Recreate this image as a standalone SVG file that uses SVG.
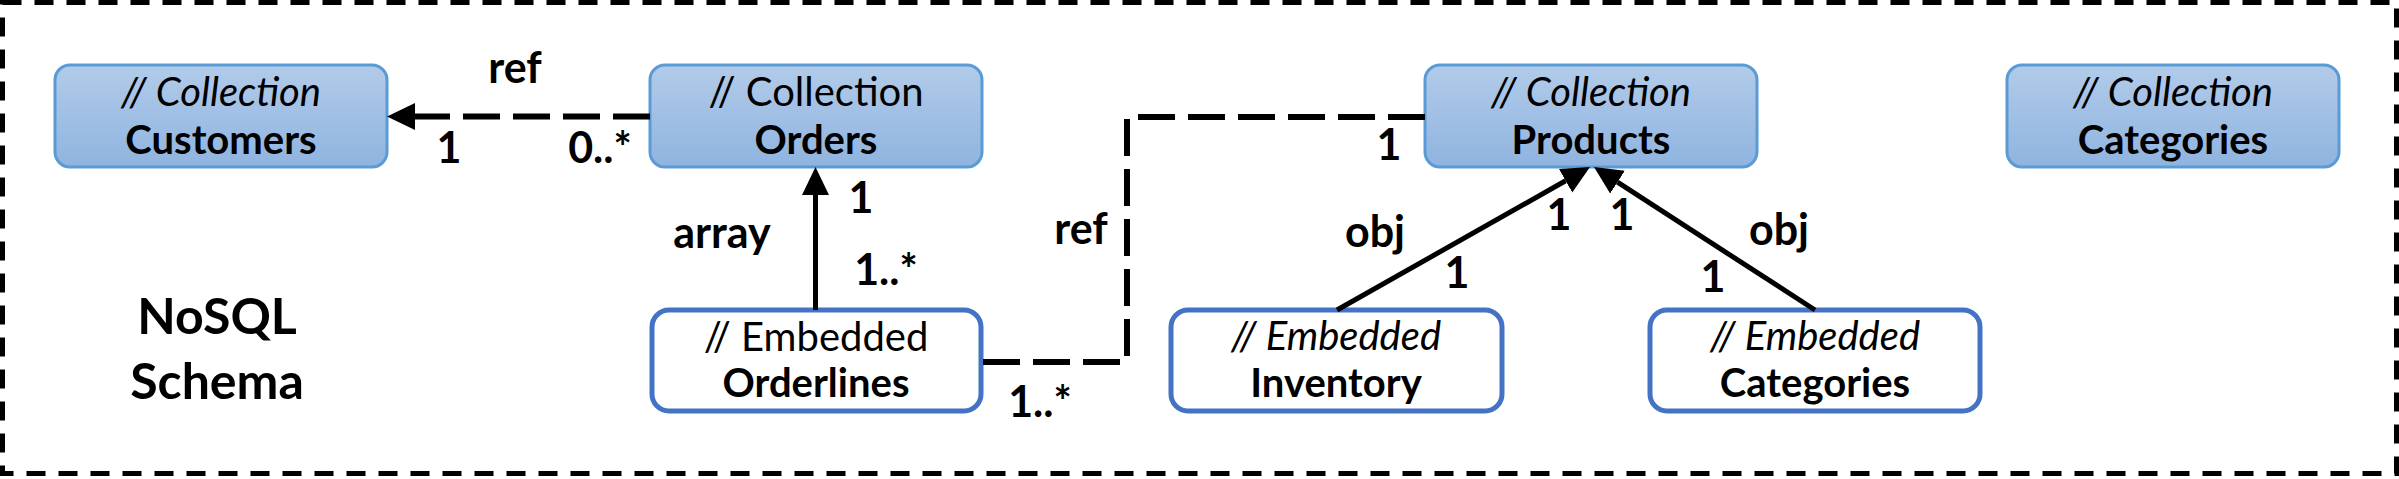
<svg xmlns="http://www.w3.org/2000/svg" width="2399" height="479" viewBox="0 0 2399 479">
<defs>
<linearGradient id="colFill" x1="0" y1="0" x2="0" y2="1">
<stop offset="0" stop-color="#b2cbe9"/>
<stop offset="1" stop-color="#8fb4e0"/>
</linearGradient>
<marker id="arrow" markerUnits="userSpaceOnUse" markerWidth="30" markerHeight="28" refX="0" refY="13.5" orient="auto">
<path d="M0,0 L28,13.5 L0,27 Z" fill="#000"/>
</marker>
<style>
text{font-family:Lato,"Open Sans","Liberation Sans",sans-serif;fill:#000;text-anchor:middle}
.col{fill:url(#colFill);stroke:#5b9bd5;stroke-width:3}
.emb{fill:#fff;stroke:#4472c4;stroke-width:5}
.t{font-size:40px}
.ti{font-size:40px;font-style:italic}
.tb{font-size:40px;font-weight:bold}
.lbl{font-size:43px;font-weight:bold}
.title{font-size:50px;font-weight:bold}
.dash{fill:none;stroke:#000;stroke-width:6;stroke-dasharray:37 13}
.solid{fill:none;stroke:#000;stroke-width:5}
</style>
</defs>
<rect x="2.5" y="2.5" width="2394" height="471" fill="#fff" stroke="#000" stroke-width="5" stroke-dasharray="19 13"/>
<g id="title">
<text class="title" x="217" y="334">NoSQL</text>
<text class="title" x="217" y="399">Schema</text>
</g>
<g id="customers">
<rect class="col" x="55" y="65" width="332" height="102" rx="15"/>
<text class="ti" x="221" y="106">// Collection</text>
<text class="tb" x="221" y="154">Customers</text>
</g>
<g id="orders">
<rect class="col" x="650" y="65" width="332" height="102" rx="15"/>
<text class="t" x="816" y="106">// Collection</text>
<text class="tb" x="816" y="154">Orders</text>
</g>
<g id="products">
<rect class="col" x="1425" y="65" width="332" height="102" rx="15"/>
<text class="ti" x="1591" y="106">// Collection</text>
<text class="tb" x="1591" y="154">Products</text>
</g>
<g id="categories">
<rect class="col" x="2007" y="65" width="332" height="102" rx="15"/>
<text class="ti" x="2173" y="106">// Collection</text>
<text class="tb" x="2173" y="154">Categories</text>
</g>
<g id="orderlines">
<rect class="emb" x="652" y="310" width="329" height="101" rx="17"/>
<text class="t" x="816" y="351">// Embedded</text>
<text class="tb" x="816" y="397">Orderlines</text>
</g>
<g id="inventory">
<rect class="emb" x="1171" y="310" width="331" height="101" rx="17"/>
<text class="ti" x="1336" y="350">// Embedded</text>
<text class="tb" x="1336" y="397">Inventory</text>
</g>
<g id="categories-embedded">
<rect class="emb" x="1650" y="310" width="330" height="101" rx="17"/>
<text class="ti" x="1815" y="350">// Embedded</text>
<text class="tb" x="1815" y="397">Categories</text>
</g>
<g id="connectors">
<path class="dash" d="M650,116.5 L415,116.5" marker-end="url(#arrow)"/>
<path class="solid" d="M815.5,310 L815.5,195" marker-end="url(#arrow)"/>
<path class="dash" d="M1425,117 L1127,117 L1127,362 L982,362"/>
<path class="solid" d="M1337,310 L1565.6,180.8" marker-end="url(#arrow)"/>
<path class="solid" d="M1815,310 L1617.5,182.2" marker-end="url(#arrow)"/>
</g>
<g id="labels">
<text class="lbl" x="515" y="83">ref</text>
<text class="lbl" x="449" y="163">1</text>
<text class="lbl" x="600" y="163">0..*</text>
<text class="lbl" x="722" y="248">array</text>
<text class="lbl" x="861" y="213">1</text>
<text class="lbl" x="886" y="285">1..*</text>
<text class="lbl" x="1081" y="244">ref</text>
<text class="lbl" x="1389" y="160">1</text>
<text class="lbl" x="1040" y="417">1..*</text>
<text class="lbl" x="1375" y="247">obj</text>
<text class="lbl" x="1559" y="230">1</text>
<text class="lbl" x="1622" y="230">1</text>
<text class="lbl" x="1779" y="245">obj</text>
<text class="lbl" x="1457" y="288">1</text>
<text class="lbl" x="1713" y="292">1</text>
</g>
</svg>
